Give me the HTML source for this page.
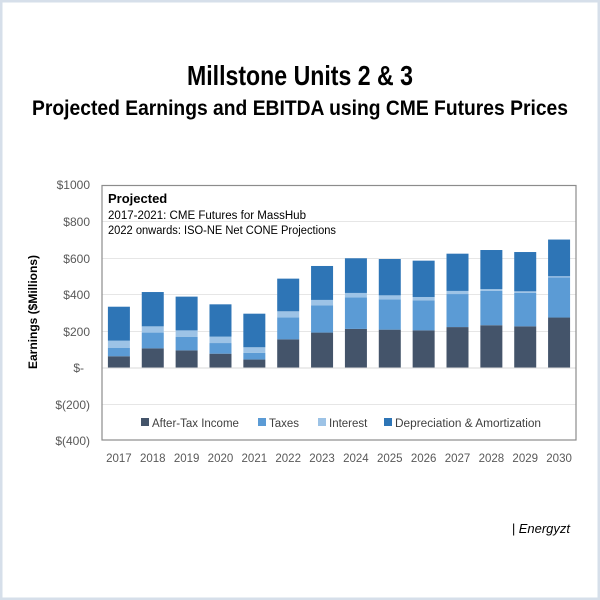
<!DOCTYPE html>
<html><head><meta charset="utf-8"><style>
html,body{margin:0;padding:0;background:#fff}
svg{display:block}
text{font-family:"Liberation Sans",sans-serif}
</style></head><body>
<svg width="600" height="600" viewBox="0 0 600 600" xmlns="http://www.w3.org/2000/svg">
<rect x="0" y="0" width="600" height="600" fill="#fff"/>
<rect x="1" y="1" width="598" height="598" fill="none" stroke="#d6dfea" stroke-width="3"/>
<text x="300" y="85" font-size="28" font-weight="bold" text-anchor="middle" textLength="226" lengthAdjust="spacingAndGlyphs" fill="#000">Millstone Units 2 &amp; 3</text>
<text x="300" y="115" font-size="21" font-weight="bold" text-anchor="middle" textLength="536" lengthAdjust="spacingAndGlyphs" fill="#000">Projected Earnings and EBITDA using CME Futures Prices</text>
<g stroke="#e6e6e6" stroke-width="1">
<line x1="102" x2="576" y1="221.5" y2="221.5"/>
<line x1="102" x2="576" y1="258.5" y2="258.5"/>
<line x1="102" x2="576" y1="294.5" y2="294.5"/>
<line x1="102" x2="576" y1="331.5" y2="331.5"/>
<line x1="102" x2="576" y1="404.5" y2="404.5"/>
</g>
<g id="bars"></g>
<line x1="102" x2="576" y1="368" y2="368" stroke="#d9d9d9"/>
<rect x="102" y="185.5" width="474" height="254.5" fill="none" stroke="#8c8c8c" stroke-width="1.2"/>
<g font-size="12" fill="#595959" text-anchor="end">
<text x="90" y="189">$1000</text>
<text x="90" y="226">$800</text>
<text x="90" y="263">$600</text>
<text x="90" y="299">$400</text>
<text x="90" y="336">$200</text>
<text x="84" y="372">$-</text>
<text x="90" y="409">$(200)</text>
<text x="90" y="445">$(400)</text>
</g>
<text transform="translate(37,312) rotate(-90)" font-size="12" font-weight="bold" text-anchor="middle" fill="#000">Earnings ($Millions)</text>
<text x="108" y="203" font-size="13" font-weight="bold" fill="#000">Projected</text>
<text x="108" y="219" font-size="11.5" fill="#000" textLength="198" lengthAdjust="spacingAndGlyphs">2017-2021:  CME Futures for MassHub</text>
<text x="108" y="234" font-size="11.5" fill="#000" textLength="228" lengthAdjust="spacingAndGlyphs">2022 onwards: ISO-NE Net CONE Projections</text>
<g font-size="11.5" fill="#404040">
<rect x="141" y="418" width="8" height="8" fill="#44546a"/><text x="152" y="427">After-Tax Income</text>
<rect x="258" y="418" width="8" height="8" fill="#5b9bd5"/><text x="269" y="427">Taxes</text>
<rect x="318" y="418" width="8" height="8" fill="#9dc3e6"/><text x="329" y="427">Interest</text>
<rect x="384" y="418" width="8" height="8" fill="#2e75b6"/><text x="395" y="427" textLength="146" lengthAdjust="spacingAndGlyphs">Depreciation &amp; Amortization</text>
</g>
<g id="xl" font-size="11.5" fill="#595959" text-anchor="middle"></g>
<text x="570" y="533" font-size="13" font-style="italic" text-anchor="end" fill="#000">| Energyzt</text>
<script>
var d=[[64,109,149,334],[107,193,227,414],[96,169,205,389],[78,136,171,347],[46,82,113,296],[156,276,309,487],[193,342,371,556],[213,384,409,598],[209,374,396,594],[205,369,387,585],[223,403,420,623],[233,420,430,643],[227,409,418,632],[275,494,500,700]];
var c=["#44546a","#5b9bd5","#9dc3e6","#2e75b6"],ns="http://www.w3.org/2000/svg";
var g=document.getElementById("bars"),xl=document.getElementById("xl");
function y(v){return 368-v*0.1835;}
d.forEach(function(r,i){var x=107.9+i*33.86,p=0;
r.forEach(function(v,k){var e=document.createElementNS(ns,"rect");e.setAttribute("x",x);e.setAttribute("width",22);e.setAttribute("y",y(v));e.setAttribute("height",y(p)-y(v));e.setAttribute("fill",c[k]);g.appendChild(e);p=v;});
var t=document.createElementNS(ns,"text");t.setAttribute("x",x+11);t.setAttribute("y",462);t.textContent=2017+i;xl.appendChild(t);});
</script>
</svg>
</body></html>
